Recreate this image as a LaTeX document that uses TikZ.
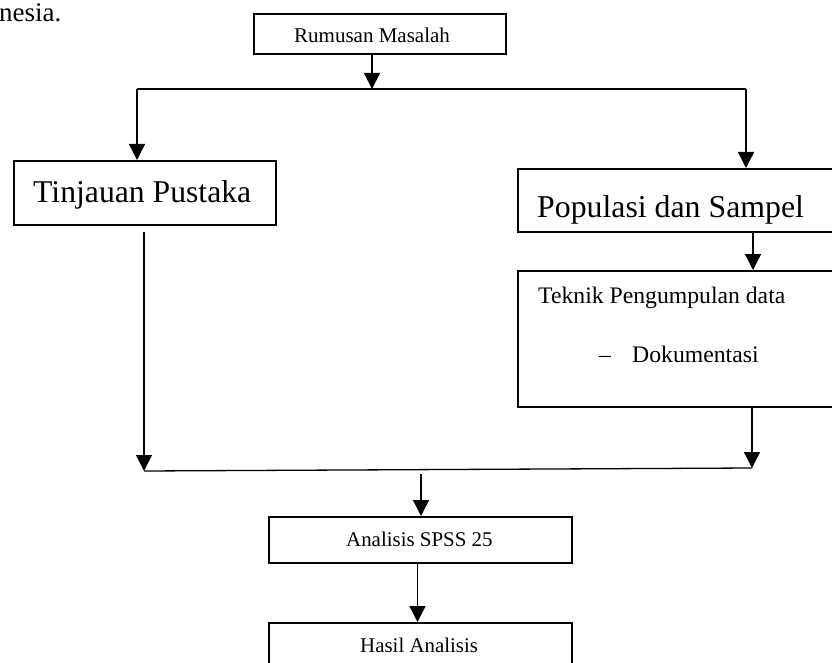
\documentclass[tikz,border=0pt]{standalone}
\usepackage{fontspec}
\setmainfont{Liberation Serif}
\usetikzlibrary{arrows.meta}
\tikzset{
  boxnode/.style={draw=black, line width=2pt, rectangle, inner sep=0pt, anchor=north west},
  conn/.style={draw=black, line width=1.3pt},
  arr/.style={conn, -{Triangle[length=16pt,width=16pt]}},
  lbl/.style={anchor=base west, inner sep=0pt, text=black},
}
\newcommand{\fsz}[1]{\fontsize{#1}{#1}\selectfont}
\begin{document}
\begin{tikzpicture}[x=1pt,y=-1pt]
\clip (0,0) rectangle (832,663);
\fill[white] (0,0) rectangle (832,663);

% page text fragment
\node[lbl] (frag) at (-1,22) {\fsz{27}nesia.};

% boxes
\node[boxnode, minimum width=252pt, minimum height=40pt] (R) at (253,13) {};
\node[boxnode, minimum width=262pt, minimum height=64pt] (T) at (13,160) {};
\node[boxnode, minimum width=328pt, minimum height=63pt] (P) at (517,168) {};
\node[boxnode, minimum width=328pt, minimum height=136pt] (K) at (517,270) {};
\node[boxnode, minimum width=303pt, minimum height=46pt] (A) at (268,516) {};
\node[boxnode, minimum width=303pt, minimum height=70pt] (H) at (268,622) {};

% texts
\node[lbl] (Rt) at (294,43) {\fsz{21}Rumusan Masalah};
\node[lbl] (Tt) at (33,202) {\fsz{31.7}Tinjauan Pustaka};
\node[lbl] (Pt) at (537,217) {\fsz{31.8}Populasi dan Sampel};
\node[lbl] (Kt) at (538,303) {\fsz{23.7}Teknik Pengumpulan data};
\node[lbl] (Kd) at (599,362) {\fsz{23.7}–};
\node[lbl] (Kt2) at (632,362) {\fsz{23.7}Dokumentasi};
\node[lbl] (At) at (346,546) {\fsz{20.9}Analisis SPSS 25};
\node[lbl] (Ht) at (360,652) {\fsz{20.9}Hasil Analisis};

% junction coordinates
\coordinate (j1) at (372,89);
\coordinate (tl) at (137,89);
\coordinate (tr) at (746,89);
\coordinate (pk) at (753,0);
\coordinate (bl) at (144,471);
\coordinate (br) at (752,468);
\coordinate (bm) at (421,474);
\coordinate (ah) at (417.5,0);

% connectors
\draw[arr] (R.south -| j1) -- (j1);
\draw[conn] (tl) -- (tr);
\draw[arr] (tl) -- (T.north -| tl);
\draw[arr] (tr) -- (P.north -| tr);
\draw[arr] (P.south -| pk) -- (K.north -| pk);
\draw[arr] ([yshift=-6pt]T.south -| bl) -- (bl);
\draw[arr] (K.south -| br) -- (br);
\draw[conn] (bl) -- (br);
\draw[arr] (bm) -- (A.north -| bm);
\draw[arr] (A.south -| ah) -- (H.north -| ah);
\end{tikzpicture}
\end{document}
